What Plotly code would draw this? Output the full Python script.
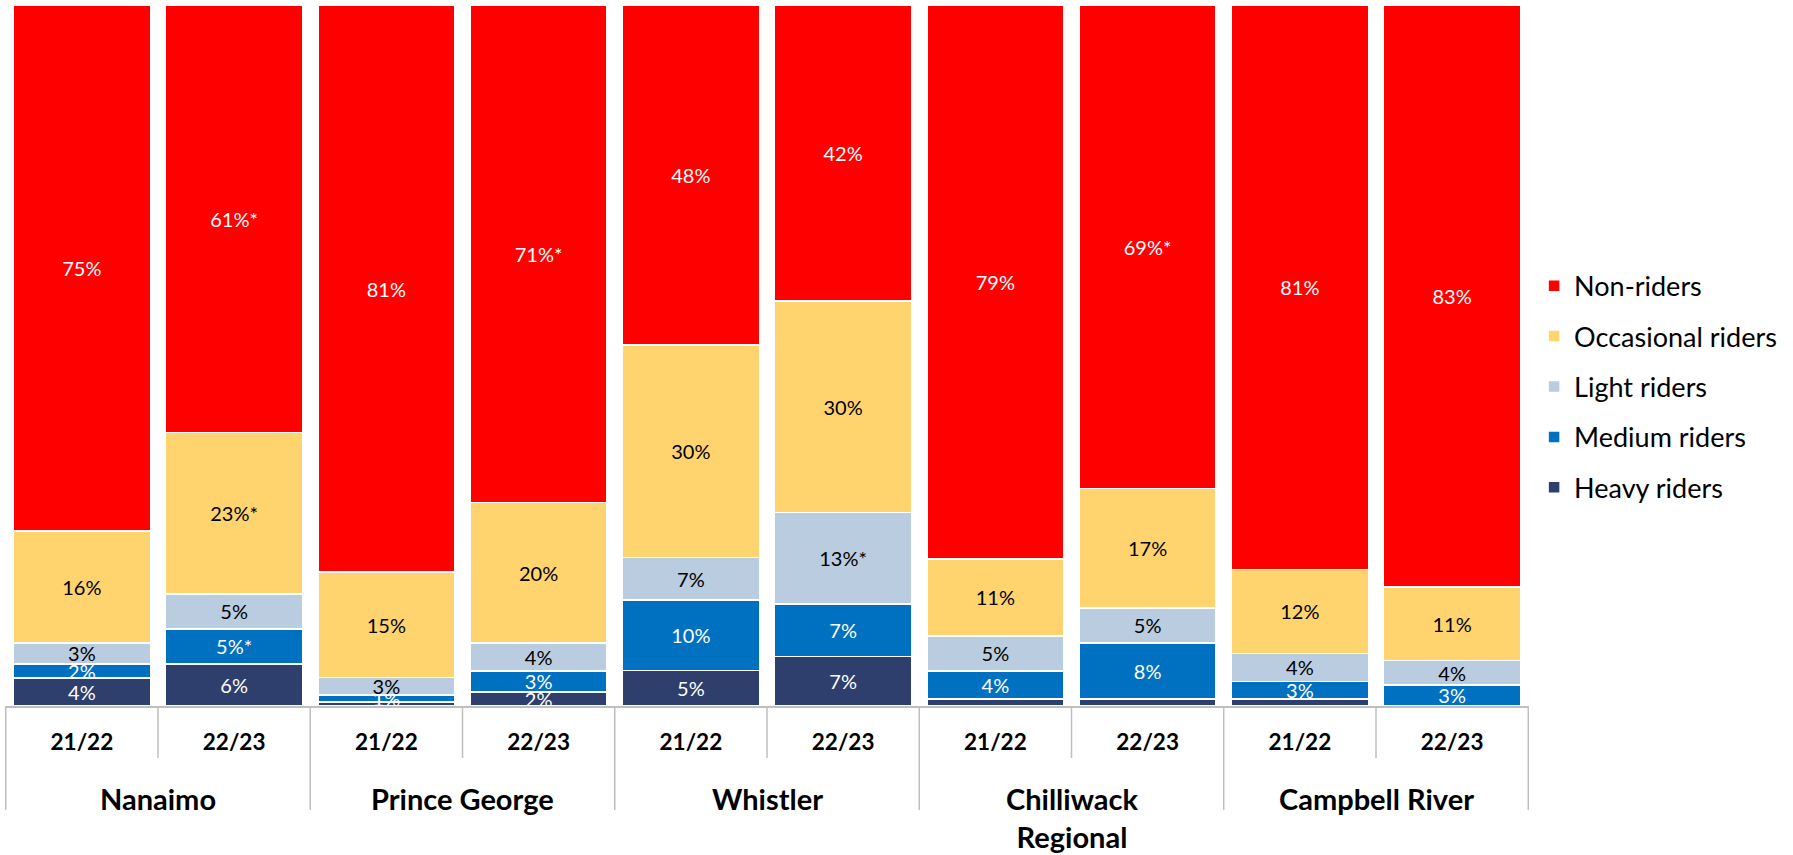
import plotly.graph_objects as go

groups = ["Nanaimo", "Prince George", "Whistler", "Chilliwack<br>Regional", "Campbell River"]
periods = ["21/22", "22/23"]

series_names = ["Heavy riders", "Medium riders", "Light riders", "Occasional riders", "Non-riders"]

heavy = [4, 6, 0.6, 2, 5, 7, 1, 1, 1, 0]
medium = [2, 5, 1, 3, 10, 7.5, 4, 8, 2.5, 3]
light = [3, 5, 2.5, 4, 6, 13, 5, 5, 4, 3.5]
occasional = [16, 23, 15, 20, 30, 30, 11, 17, 12, 10.5]
non_riders = [75, 61, 81, 71, 48, 42, 79, 69, 80.5, 83]

heavy_lbl = ["4%", "6%", "", "2%", "5%", "7%", "", "", "", ""]
medium_lbl = ["2%", "5%*", "1%", "3%", "10%", "7%", "4%", "8%", "3%", "3%"]
light_lbl = ["3%", "5%", "3%", "4%", "7%", "13%*", "5%", "5%", "4%", "4%"]
occasional_lbl = ["16%", "23%*", "15%", "20%", "30%", "30%", "11%", "17%", "12%", "11%"]
non_lbl = ["75%", "61%*", "81%", "71%*", "48%", "42%", "79%", "69%*", "81%", "83%"]

colors = ["#2E3E6D", "#0070C0", "#BACCDF", "#FFD46F", "#FF0000"]
text_colors = ["white", "white", "black", "black", "white"]

values = [heavy, medium, light, occasional, non_riders]
labels = [heavy_lbl, medium_lbl, light_lbl, occasional_lbl, non_lbl]

FONT = "Lato"
LINE = "#BFBFBF"

# category keys (unique) and their displayed tick text
keys = [f"{g} {p}" for g in groups for p in periods]
tick_text = [p for g in groups for p in periods]

fig = go.Figure()
n = len(series_names)
for i, name in enumerate(series_names):
    fig.add_trace(go.Bar(
        name=name,
        x=keys,
        y=values[i],
        text=labels[i],
        textposition="inside",
        insidetextanchor="middle",
        textangle=0,
        textfont=dict(color=text_colors[i], size=20, family=FONT),
        marker=dict(color=colors[i], line=dict(color="white", width=1.5)),
        legendgroup=name,
        legendrank=n - i,
        hovertemplate="%{x}<br>" + name + ": %{text}<extra></extra>",
    ))

# plot area: top 5px, baseline 706px, height 701px
PH = 701.0
shapes = []
np_ = len(periods)
for gi in range(len(groups) + 1):
    xb = gi * np_ - 0.5
    shapes.append(dict(type="line", xref="x", yref="paper", x0=xb, x1=xb,
                       y0=0, y1=-(810 - 706) / PH, line=dict(color=LINE, width=1.5)))
for gi in range(len(groups)):
    for k in range(1, np_):
        xb = gi * np_ + k - 0.5
        shapes.append(dict(type="line", xref="x", yref="paper", x0=xb, x1=xb,
                           y0=0, y1=-(758 - 706) / PH, line=dict(color=LINE, width=1.5)))

annotations = []
for gi, g in enumerate(groups):
    xc = gi * np_ + (np_ - 1) / 2
    annotations.append(dict(text=g, xref="x", yref="paper", x=xc, y=-(779 - 706) / PH,
                            yanchor="top", xanchor="center", showarrow=False,
                            font=dict(size=29, family=FONT, color="black", weight="bold")))

fig.update_layout(
    barmode="stack",
    barnorm="percent",
    bargap=0.1,
    width=1793, height=855,
    margin=dict(l=5, r=264, t=5, b=149, autoexpand=False),
    paper_bgcolor="white", plot_bgcolor="white",
    uniformtext=dict(minsize=20, mode="show"),
    font=dict(family=FONT, color="black"),
    shapes=shapes,
    annotations=annotations,
    legend=dict(
        traceorder="grouped",
        tracegroupgap=12.3,
        xref="container", yref="container",
        x=0.8556, y=0.694, xanchor="left", yanchor="top",
        font=dict(size=27, family=FONT, color="black"),
    ),
    xaxis=dict(
        type="category",
        automargin=False,
        showline=True, linecolor=LINE, linewidth=1.5,
        ticks="", showgrid=False,
        tickvals=keys, ticktext=tick_text,
        ticklabelstandoff=15,
        tickfont=dict(size=22.5, family=FONT, color="black", weight="bold"),
    ),
    yaxis=dict(range=[0, 100], visible=False, showgrid=False, automargin=False),
)

fig.write_html(
    "out.html",
    config={"displayModeBar": False},
    post_script="document.body.style.margin='0';document.body.style.overflow='hidden';",
)
